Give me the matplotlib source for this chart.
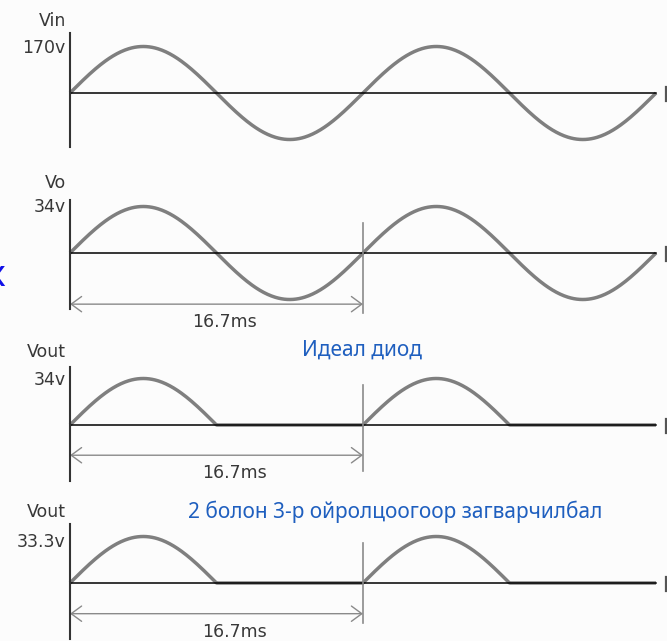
#!/usr/bin/env python3
"""Rectifier waveforms: input, transformer output and half-wave outputs."""

import numpy as np
import matplotlib

matplotlib.use("Agg")
import matplotlib.pyplot as plt  # noqa: E402

# --- data -----------------------------------------------------------------
PANEL_NAMES = ["Vin", "Vo", "Vout", "Vout"]
PEAK_LABELS = ["170v", "34v", "34v", "33.3v"]
PEAK_VOLTS = [170.0, 34.0, 34.0, 33.3]
RECTIFIED = [False, False, True, True]
SHOW_PERIOD = [False, True, True, True]
PERIOD_MS = 16.7
PERIOD_LABEL = "16.7ms"
NOTES = ["Идеал диод", "2 болон 3-р ойролцоогоор загварчилбал"]

# --- layout (pixels of the 667x641 canvas) --------------------------------
W, H = 667, 641
X0_PX = 70            # t = 0
PX_PER_MS = 293 / PERIOD_MS
AMP_PX = 46.5         # peak height
BAND_PX = 80          # half height of each panel band
BASELINES_PX = [93, 253, 425, 583]
AXIS_SPAN = [(1.30, -1.17), (1.13, -1.20), (1.24, -1.20), (1.26, -1.20)]
VLINE_SPAN = [None, (0.65, -1.30), (0.87, -0.98), (0.87, -0.85)]
ARROW_Y = [None, -1.10, -0.65, -0.66]
LABEL_SHIFT = [None, 6, 13, 13]   # points right of the arrow middle
NAME_Y = [1.54, 1.50, 1.57, 1.52]
PEAK_Y = [0.97, 0.98, 0.97, 0.89]
NOTE_POS = [(302, 350), (188, 512)]

WAVE_COLOR = "#7f7f7f"
TEXT_COLOR = "#383838"
NOTE_COLOR = "#1f5fbf"

fig = plt.figure(figsize=(W / 100, H / 100), dpi=100, facecolor="#fcfcfc")

t = np.linspace(0, 2 * PERIOD_MS, 600)
xlim = (-X0_PX / PX_PER_MS, (W - X0_PX) / PX_PER_MS)

for i, name in enumerate(PANEL_NAMES):
    base = BASELINES_PX[i]
    ax = fig.add_axes([0, (H - base - BAND_PX) / H, 1, 2 * BAND_PX / H])
    ax.set_axis_off()
    ax.patch.set_alpha(0)
    peak = PEAK_VOLTS[i]
    unit = peak  # one "unit" = peak height
    lim = BAND_PX / AMP_PX * peak
    ax.set_xlim(*xlim)
    ax.set_ylim(-lim, lim)

    v = peak * np.sin(2 * np.pi * t / PERIOD_MS)
    if RECTIFIED[i]:
        v = np.clip(v, 0, None)

    ax.plot(t, v, color=WAVE_COLOR, lw=2.5, solid_capstyle="butt", zorder=2)
    ax.plot([0, 2 * PERIOD_MS], [0, 0], color="black", lw=1.1, zorder=3)
    # small end tick at the right edge
    ax.plot([2 * PERIOD_MS * 1.017] * 2, [0.12 * unit, -0.18 * unit],
            color="#555555", lw=1.6, zorder=3, clip_on=False)

    top, bottom = AXIS_SPAN[i]
    ax.plot([0, 0], [top * unit, bottom * unit], color="#333333", lw=1.5, zorder=4)

    ax.annotate(name, xy=(0, NAME_Y[i] * unit), xytext=(-3, 0),
                textcoords="offset points", ha="right", va="center",
                fontsize=12.5, color=TEXT_COLOR)
    ax.annotate(PEAK_LABELS[i], xy=(0, PEAK_Y[i] * unit), xytext=(-3, 0),
                textcoords="offset points", ha="right", va="center",
                fontsize=12.5, color=TEXT_COLOR)

    if SHOW_PERIOD[i]:
        vt, vb = VLINE_SPAN[i]
        ax.plot([PERIOD_MS, PERIOD_MS], [vt * unit, vb * unit],
                color="#8a8a8a", lw=1.2, zorder=4)
        ay = ARROW_Y[i] * unit
        ax.annotate("", xy=(PERIOD_MS, ay), xytext=(0, ay),
                    arrowprops=dict(arrowstyle="<->,head_length=0.75,head_width=0.55",
                                    color="#8a8a8a", lw=1.0,
                                    shrinkA=0, shrinkB=0))
        ax.annotate(PERIOD_LABEL, xy=(PERIOD_MS / 2, ay),
                    xytext=(LABEL_SHIFT[i], -13),
                    textcoords="offset points", ha="center", va="center",
                    fontsize=12.5, color=TEXT_COLOR)

# blue annotations
for note, (nx, ny) in zip(NOTES, NOTE_POS):
    fig.text(nx / W, 1 - ny / H, note, ha="left", va="center",
             fontsize=15, color=NOTE_COLOR, family=["Noto Sans", "DejaVu Sans"])
# cropped glyph at the left edge
fig.text(-4 / W, 1 - 276 / H, "x", ha="center", va="center", fontsize=26,
         color="#1010e8")

fig.savefig("out.png", dpi=100, facecolor=fig.get_facecolor())
